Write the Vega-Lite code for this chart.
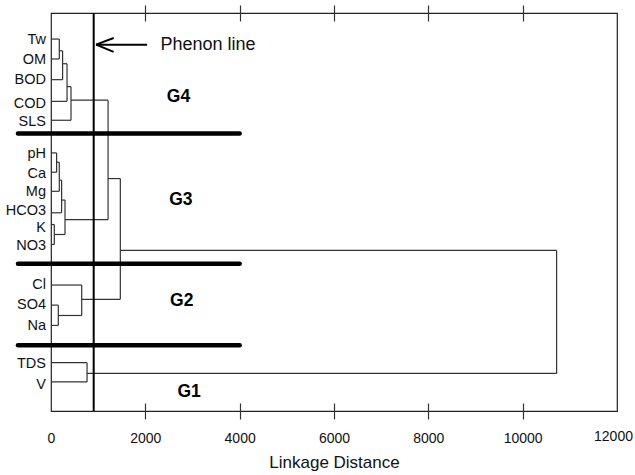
{
  "$schema": "https://vega.github.io/schema/vega-lite/v6.json",
  "width": 566,
  "height": 398,
  "autosize": {"type": "none"},
  "padding": {"left": 51, "top": 13, "right": 18, "bottom": 64},
  "config": {
    "font": "Liberation Sans",
    "view": {"stroke": "#222", "strokeWidth": 1.2},
    "axis": {"grid": false}
  },
  "datasets": {
    "segs": [
      {"x": 0, "x2": 176, "y": 1.31, "y2": 1.31},
      {"x": 0, "x2": 176, "y": 2.31, "y2": 2.31},
      {"x": 176, "x2": 176, "y": 1.31, "y2": 2.31},
      {"x": 176, "x2": 246, "y": 1.9, "y2": 1.9},
      {"x": 0, "x2": 246, "y": 3.35, "y2": 3.35},
      {"x": 246, "x2": 246, "y": 1.9, "y2": 3.35},
      {"x": 246, "x2": 340, "y": 2.55, "y2": 2.55},
      {"x": 0, "x2": 340, "y": 4.44, "y2": 4.44},
      {"x": 340, "x2": 340, "y": 2.55, "y2": 4.44},
      {"x": 340, "x2": 424, "y": 3.7, "y2": 3.7},
      {"x": 0, "x2": 424, "y": 5.39, "y2": 5.39},
      {"x": 424, "x2": 424, "y": 3.7, "y2": 5.39},
      {"x": 424, "x2": 1210, "y": 4.38, "y2": 4.38},
      {"x": 0, "x2": 119, "y": 7.03, "y2": 7.03},
      {"x": 0, "x2": 119, "y": 8.0, "y2": 8.0},
      {"x": 119, "x2": 119, "y": 7.03, "y2": 8.0},
      {"x": 119, "x2": 176, "y": 7.5, "y2": 7.5},
      {"x": 0, "x2": 176, "y": 8.96, "y2": 8.96},
      {"x": 176, "x2": 176, "y": 7.5, "y2": 8.96},
      {"x": 176, "x2": 225, "y": 8.4, "y2": 8.4},
      {"x": 0, "x2": 225, "y": 10.04, "y2": 10.04},
      {"x": 225, "x2": 225, "y": 8.4, "y2": 10.04},
      {"x": 225, "x2": 297, "y": 9.4, "y2": 9.4},
      {"x": 0, "x2": 70, "y": 10.63, "y2": 10.63},
      {"x": 0, "x2": 70, "y": 11.63, "y2": 11.63},
      {"x": 70, "x2": 70, "y": 10.63, "y2": 11.63},
      {"x": 70, "x2": 297, "y": 11.13, "y2": 11.13},
      {"x": 297, "x2": 297, "y": 9.4, "y2": 11.13},
      {"x": 297, "x2": 1210, "y": 10.38, "y2": 10.38},
      {"x": 1210, "x2": 1210, "y": 4.38, "y2": 10.38},
      {"x": 1210, "x2": 1470, "y": 8.32, "y2": 8.32},
      {"x": 0, "x2": 651, "y": 13.67, "y2": 13.67},
      {"x": 0, "x2": 155, "y": 14.68, "y2": 14.68},
      {"x": 0, "x2": 155, "y": 15.7, "y2": 15.7},
      {"x": 155, "x2": 155, "y": 14.68, "y2": 15.7},
      {"x": 155, "x2": 651, "y": 15.2, "y2": 15.2},
      {"x": 651, "x2": 651, "y": 13.67, "y2": 15.2},
      {"x": 651, "x2": 1470, "y": 14.39, "y2": 14.39},
      {"x": 1470, "x2": 1470, "y": 8.32, "y2": 14.39},
      {"x": 1470, "x2": 10720, "y": 11.93, "y2": 11.93},
      {"x": 0, "x2": 764, "y": 17.57, "y2": 17.57},
      {"x": 0, "x2": 764, "y": 18.54, "y2": 18.54},
      {"x": 764, "x2": 764, "y": 17.57, "y2": 18.54},
      {"x": 764, "x2": 10720, "y": 18.11, "y2": 18.11},
      {"x": 10720, "x2": 10720, "y": 11.93, "y2": 18.11}
    ],
    "leaves": [
      {"name": "Tw", "y": 1.34},
      {"name": "OM", "y": 2.34},
      {"name": "BOD", "y": 3.35},
      {"name": "COD", "y": 4.55},
      {"name": "SLS", "y": 5.49},
      {"name": "pH", "y": 7.1},
      {"name": "Ca", "y": 8.07},
      {"name": "Mg", "y": 9.0},
      {"name": "HCO3", "y": 9.95},
      {"name": "K", "y": 10.8},
      {"name": "NO3", "y": 11.72},
      {"name": "Cl", "y": 13.67},
      {"name": "SO4", "y": 14.67},
      {"name": "Na", "y": 15.73},
      {"name": "TDS", "y": 17.63},
      {"name": "V", "y": 18.7}
    ],
    "seps": [
      {"x": -700, "x2": 4000, "y": 6.06},
      {"x": -700, "x2": 4000, "y": 12.6},
      {"x": -700, "x2": 4000, "y": 16.69}
    ],
    "phenon": [{"x": 905}],
    "arrow": [
      {"x": 955, "x2": 2037, "y": 1.59, "y2": 1.59},
      {"x": 955, "x2": 1328, "y": 1.59, "y2": 1.256},
      {"x": 955, "x2": 1328, "y": 1.59, "y2": 1.956}
    ],
    "note": [{"label": "Phenon line", "x": 2319, "y": 1.59}],
    "groups": [
      {"label": "G4", "x": 2703, "y": 4.24},
      {"label": "G3", "x": 2754, "y": 9.42},
      {"label": "G2", "x": 2771, "y": 14.48},
      {"label": "G1", "x": 2928, "y": 19.05}
    ]
  },
  "resolve": {"axis": {"x": "independent"}},
  "layer": [
    {
      "data": {"name": "segs"},
      "mark": {"type": "rule", "color": "#333", "strokeWidth": 1.2},
      "encoding": {
        "x": {
          "field": "x", "type": "quantitative",
          "scale": {"domain": [0, 12000], "nice": false, "zero": false},
          "axis": {
            "orient": "bottom",
            "values": [0, 2000, 4000, 6000, 8000, 10000, 12000],
            "format": "d",
            "offset": -8,
            "tickSize": 16,
            "tickWidth": 1.2,
            "tickColor": "#333",
            "tickOpacity": {"condition": {"test": "datum.value == 0 || datum.value == 12000", "value": 0}, "value": 1},
            "domain": false,
            "labelFontSize": 14,
            "labelColor": "#111",
            "labelPadding": {"condition": {"test": "datum.value == 12000", "value": 10}, "value": 12},
            "labelOffset": {"condition": {"test": "datum.value == 12000", "value": -4}, "value": 0},
            "labelFlush": false,
            "labelOverlap": false,
            "title": "Linkage Distance",
            "titleFontSize": 17,
            "titleFontWeight": "normal",
            "titleColor": "#111",
            "titlePadding": 9
          }
        },
        "x2": {"field": "x2"},
        "y": {
          "field": "y", "type": "quantitative",
          "scale": {"domain": [0, 20], "reverse": true, "nice": false, "zero": false},
          "axis": {
            "values": [1.31, 2.31, 3.35, 4.44, 5.39, 7.03, 8.0, 8.96, 10.04, 10.63, 11.63, 13.67, 14.68, 15.7, 17.57, 18.54],
            "labels": false,
            "domain": false,
            "tickSize": 4,
            "tickColor": "#333",
            "title": null
          }
        },
        "y2": {"field": "y2"}
      }
    },
    {
      "data": {"name": "seps"},
      "mark": {"type": "rule", "color": "#000", "strokeWidth": 4.5, "strokeCap": "round"},
      "encoding": {
        "x": {"field": "x", "type": "quantitative", "axis": null},
        "x2": {"field": "x2"},
        "y": {"field": "y", "type": "quantitative", "axis": null}
      }
    },
    {
      "data": {"name": "phenon"},
      "mark": {"type": "rule", "color": "#000", "strokeWidth": 2},
      "encoding": {
        "x": {
          "field": "x", "type": "quantitative",
          "axis": {
            "orient": "top",
            "values": [2000, 4000, 6000, 8000, 10000],
            "labels": false,
            "domain": false,
            "offset": -8,
            "tickSize": 16,
            "tickWidth": 1.2,
            "tickColor": "#333",
            "title": null
          }
        }
      }
    },
    {
      "data": {"name": "arrow"},
      "mark": {"type": "rule", "color": "#000", "strokeWidth": 2},
      "encoding": {
        "x": {"field": "x", "type": "quantitative", "axis": null},
        "x2": {"field": "x2"},
        "y": {"field": "y", "type": "quantitative", "axis": null},
        "y2": {"field": "y2"}
      }
    },
    {
      "data": {"name": "note"},
      "mark": {"type": "text", "align": "left", "baseline": "middle", "fontSize": 18, "color": "#111"},
      "encoding": {
        "x": {"field": "x", "type": "quantitative", "axis": null},
        "y": {"field": "y", "type": "quantitative", "axis": null},
        "text": {"field": "label"}
      }
    },
    {
      "data": {"name": "groups"},
      "mark": {"type": "text", "align": "center", "baseline": "middle", "fontSize": 17.5, "fontWeight": "bold", "color": "#000"},
      "encoding": {
        "x": {"field": "x", "type": "quantitative", "axis": null},
        "y": {"field": "y", "type": "quantitative", "axis": null},
        "text": {"field": "label"}
      }
    },
    {
      "data": {"name": "leaves"},
      "mark": {"type": "text", "align": "right", "baseline": "middle", "fontSize": 14.5, "dx": -5, "color": "#111"},
      "encoding": {
        "x": {"datum": 0, "type": "quantitative", "axis": null},
        "y": {"field": "y", "type": "quantitative", "axis": null},
        "text": {"field": "name"}
      }
    }
  ]
}
